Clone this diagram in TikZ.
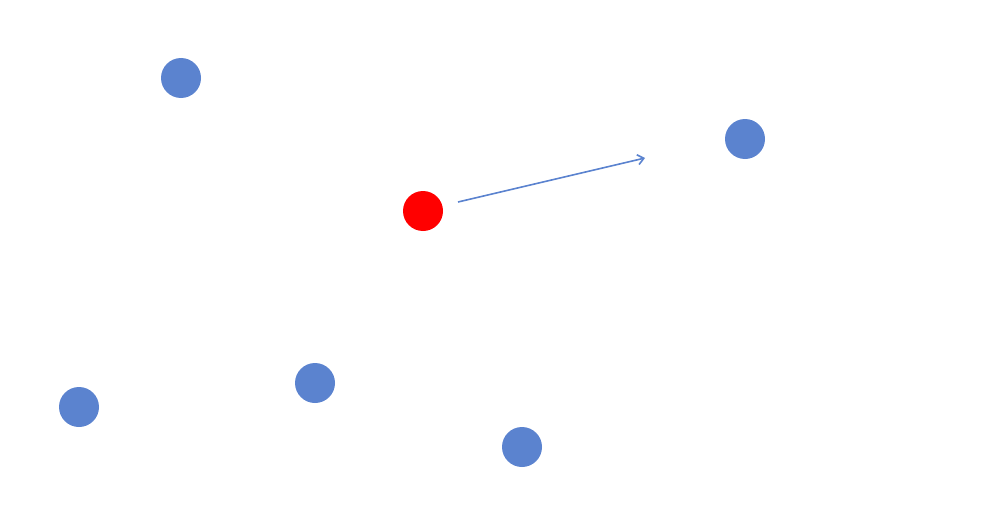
\documentclass[tikz,border=0pt]{standalone}
\usetikzlibrary{arrows.meta}
\definecolor{dotblue}{HTML}{5B83CF}
\definecolor{dotred}{HTML}{FF0000}
\begin{document}
\begin{tikzpicture}[x=1pt,y=-1pt,
  bluedot/.style={circle,fill=dotblue,minimum size=40pt,inner sep=0pt},
  reddot/.style={circle,fill=dotred,minimum size=40pt,inner sep=0pt},
  vec/.style={draw=dotblue,line width=1.6pt,-{Straight Barb[length=6pt,width=10pt]}}]
\useasboundingbox (0,0) rectangle (987,511);
\node[bluedot] (p1) at (181,78) {};
\node[bluedot] (p2) at (745,139) {};
\node[bluedot] (p3) at (315,383) {};
\node[bluedot] (p4) at (79,407) {};
\node[bluedot] (p5) at (522,447) {};
\node[reddot] (c) at (423,211) {};
\coordinate (vs) at (458,202);
\coordinate (ve) at (645,158);
\draw[vec] (vs) -- (ve);
\end{tikzpicture}
\end{document}
